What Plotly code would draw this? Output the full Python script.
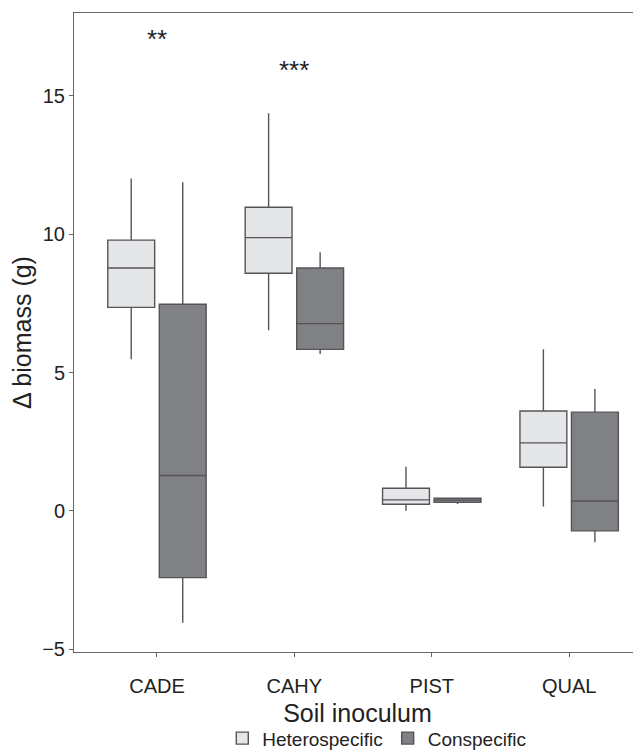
import plotly.graph_objects as go

categories = ["CADE", "CAHY", "PIST", "QUAL"]

# Heterospecific box statistics
het_lower = [5.48, 6.53, 0.01, 0.16]
het_q1 = [7.36, 8.59, 0.24, 1.58]
het_median = [8.78, 9.88, 0.40, 2.46]
het_q3 = [9.79, 10.98, 0.82, 3.61]
het_upper = [12.02, 14.38, 1.60, 5.84]

# Conspecific box statistics
con_lower = [-4.04, 5.67, 0.25, -1.13]
con_q1 = [-2.41, 5.84, 0.31, -0.72]
con_median = [1.28, 6.77, 0.39, 0.36]
con_q3 = [7.47, 8.78, 0.46, 3.57]
con_upper = [11.88, 9.35, 0.47, 4.41]

sig_labels = ["**", "***"]
sig_cats = ["CADE", "CAHY"]
sig_y = [17.05, 15.95]

font_family = "Liberation Sans, Arial, Helvetica, sans-serif"

fig = go.Figure()
fig.add_trace(go.Box(
    name="Heterospecific", x=categories,
    lowerfence=het_lower, q1=het_q1, median=het_median, q3=het_q3, upperfence=het_upper,
    fillcolor="#E5E6E8", line=dict(color="#555558", width=1.4),
    whiskerwidth=0, boxpoints=False,
))
fig.add_trace(go.Box(
    name="Conspecific", x=categories,
    lowerfence=con_lower, q1=con_q1, median=con_median, q3=con_q3, upperfence=con_upper,
    fillcolor="#808184", line=dict(color="#555558", width=1.4),
    whiskerwidth=0, boxpoints=False,
))

for lab, c, yv in zip(sig_labels, sig_cats, sig_y):
    fig.add_annotation(x=c, y=yv, text=lab, showarrow=False,
                       font=dict(size=26, color="#222222", family=font_family))

fig.update_layout(
    width=633, height=744,
    boxmode="group", boxgap=0.25, boxgroupgap=0.09,
    plot_bgcolor="white", paper_bgcolor="white",
    margin=dict(l=66, r=0, t=5, b=100, autoexpand=False),
    font=dict(family=font_family, color="#222222"),
    showlegend=True,
    legend=dict(orientation="h", x=0.534, xanchor="center", y=-0.135, yanchor="middle",
                font=dict(size=19, color="#222222"), bgcolor="rgba(0,0,0,0)",
                itemwidth=30, tracegroupgap=0),
    xaxis=dict(
        range=[-0.604, 3.523], showline=True, linecolor="#666666", linewidth=1,
        mirror=True, ticks="outside", ticklen=4, tickcolor="#666666",
        ticklabelstandoff=12,
        tickfont=dict(size=20, color="#222222"), showgrid=False, zeroline=False,
        automargin=False,
        title=dict(text="Soil inoculum", font=dict(size=25, color="#222222"), standoff=8),
    ),
    yaxis=dict(
        range=[-5.1, 18.0], showline=True, linecolor="#666666", linewidth=1,
        ticks="outside", ticklen=4, tickcolor="#666666", tickvals=[-5, 0, 5, 10, 15],
        ticktext=["\u22125", "0", "5", "10", "15"], automargin=False,
        tickfont=dict(size=20, color="#222222"), showgrid=False, zeroline=False,
        title=dict(text="\u0394 biomass (g)", font=dict(size=25, color="#222222"), standoff=8),
    ),
)

fig.write_html("out.html")
